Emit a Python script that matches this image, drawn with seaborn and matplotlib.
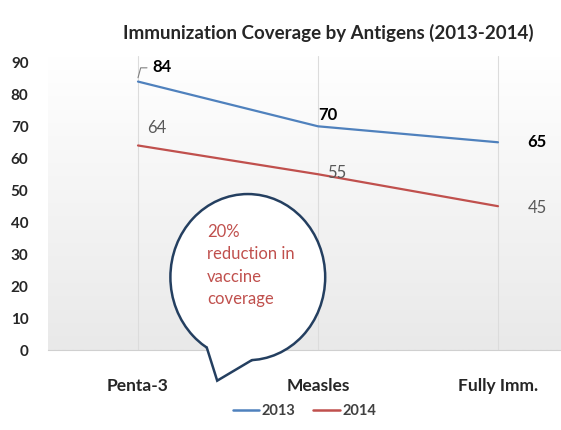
import numpy as np
import pandas as pd
import seaborn as sns
import matplotlib.pyplot as plt
from matplotlib.patches import Ellipse, Polygon

antigens = ['Penta-3', 'Measles', 'Fully Imm.']
cov_2013 = [84, 70, 65]
cov_2014 = [64, 55, 45]
years = ['2013', '2014']
yticks = [0, 10, 20, 30, 40, 50, 60, 70, 80, 90]

df = pd.DataFrame({
    'antigen': antigens * 2,
    'pos': list(range(len(antigens))) * 2,
    'coverage': cov_2013 + cov_2014,
    'year': [years[0]] * 3 + [years[1]] * 3,
})

sns.set_style('white')
plt.rcParams['font.family'] = ['Lato', 'DejaVu Sans']

fig = plt.figure(figsize=(5.61, 4.30), dpi=100)
ax = fig.add_axes([48 / 561, 80 / 430, 513 / 561, 294 / 430])

# light grey gradient in the plot area
grad = np.linspace(0, 1, 256).reshape(-1, 1)
ax.imshow(grad, cmap=plt.matplotlib.colors.LinearSegmentedColormap.from_list('g', ['#e9e9e9', '#ffffff']),
          extent=[0, 1, 0, 1], transform=ax.transAxes, aspect='auto', origin='lower', zorder=0)

palette = {'2013': '#4F81BD', '2014': '#C0504D'}
sns.lineplot(data=df, x='pos', y='coverage', hue='year', palette=palette, linewidth=1.6,
             ax=ax, legend=False, zorder=3)

for i in range(len(antigens)):
    ax.axvline(i, color='#dcdcdc', linewidth=0.8, zorder=1)

ax.set_xlim(-0.5, 2.35)
ax.set_ylim(0, 92)
ax.set_xticks(range(len(antigens)))
ax.set_xticklabels(antigens, fontweight='bold', fontsize=12.5)
ax.set_yticks(yticks)
ax.set_yticklabels([str(v) for v in yticks], fontweight='bold', fontsize=11)
ax.tick_params(axis='x', length=0, pad=20)
ax.tick_params(axis='y', length=0, pad=14)
ax.set_xlabel('')
ax.set_ylabel('')
for s in ['top', 'right', 'left']:
    ax.spines[s].set_visible(False)
ax.spines['bottom'].set_color('#d0d0d0')

# data labels
lbl13 = [(0.08, 88.5), (0.0, 73.5), (0.165, 65)]
lbl14 = [(0.05, 69.5), (0.05, 55.5), (0.165, 44.5)]
for i, v in enumerate(cov_2013):
    dx, y = lbl13[i]
    ax.text(i + dx, y, str(v), fontsize=12, fontweight='bold', color='black', ha='left', va='center', zorder=5)
for i, v in enumerate(cov_2014):
    dx, y = lbl14[i]
    ax.text(i + dx, y, str(v), fontsize=12, color='#595959', ha='left', va='center', zorder=5)
ax.plot([0.0, 0.015, 0.05], [85.2, 88.3, 88.3], color='#7f7f7f', linewidth=0.8, zorder=4)

# speech bubble
cx, cy, ew, eh = 0.61, 22.8, 0.86, 52
ax.add_patch(Ellipse((cx, cy), ew, eh, facecolor='white', edgecolor='#243F60',
                     linewidth=1.8, zorder=6, clip_on=False))
t1, t2 = np.deg2rad(238), np.deg2rad(273)
p1 = (cx + ew / 2 * np.cos(t1), cy + eh / 2 * np.sin(t1))
p2 = (cx + ew / 2 * np.cos(t2), cy + eh / 2 * np.sin(t2))
tip = (0.44, -9.6)
ax.add_patch(Polygon([p1, tip, p2, (cx, cy - 10)], closed=True, facecolor='white',
                     edgecolor='none', zorder=7, clip_on=False))
ax.plot([p1[0], tip[0], p2[0]], [p1[1], tip[1], p2[1]], color='#243F60', linewidth=1.8,
        zorder=8, clip_on=False, solid_joinstyle='miter')
ax.text(0.385, 39.5, '20%\nreduction in\nvaccine\ncoverage', color='#C0504D', fontsize=12,
        ha='left', va='top', linespacing=1.5, zorder=9)

fig.suptitle('Immunization Coverage by Antigens (2013-2014)', x=0.585, y=0.945,
             fontsize=13.5, fontweight='bold', color='#262626')

handles = [plt.Line2D([], [], color=palette[y], linewidth=1.8) for y in years]
fig.legend(handles, years, loc='center', bbox_to_anchor=(0.543, 0.045), ncol=2, frameon=False,
           handlelength=1.8, handletextpad=0.2, columnspacing=1.2,
           prop={'weight': 'bold', 'size': 10.5})
for t in fig.legends[0].get_texts():
    t.set_color('#404040')

fig.savefig('out.png', dpi=100)
